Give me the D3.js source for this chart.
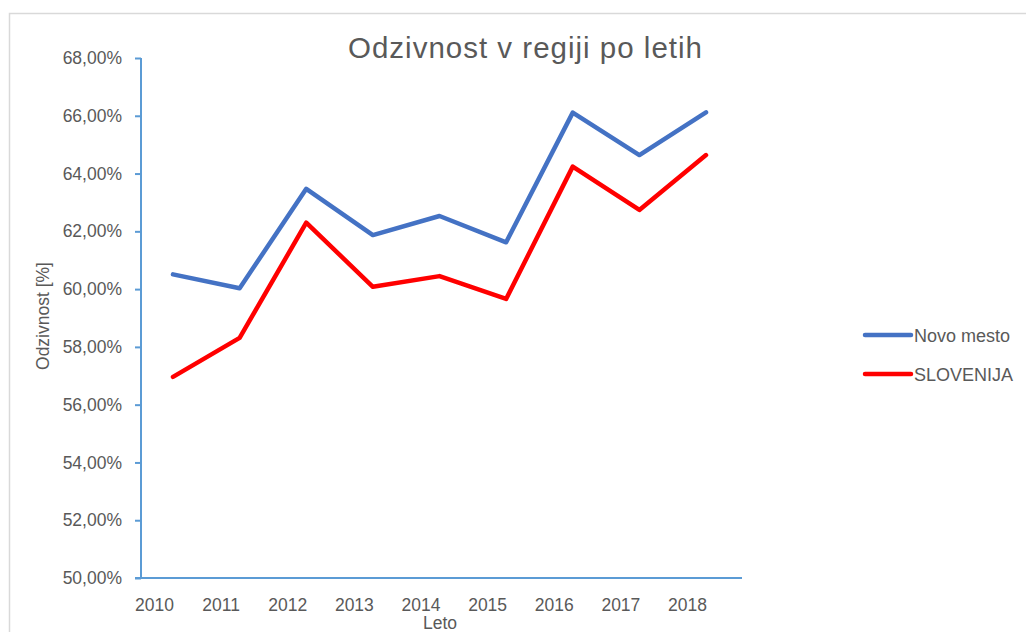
<!DOCTYPE html>
<html><head><meta charset="utf-8">
<script src="https://cdn.jsdelivr.net/npm/d3@7"></script>
<style>body{margin:0;background:#fff;}svg{display:block;}text{font-family:"Liberation Sans",Arial,sans-serif;}</style>
</head><body>
<script>
const years = ["2010","2011","2012","2013","2014","2015","2016","2017","2018"];
const novoMesto = [60.51, 60.03, 63.47, 61.87, 62.53, 61.62, 66.11, 64.64, 66.12];
const slovenija = [56.96, 58.31, 62.30, 60.08, 60.45, 59.66, 64.24, 62.74, 64.64];
const seriesNames = ["Novo mesto", "SLOVENIJA"];
const yTicks = [50,52,54,56,58,60,62,64,66,68];

const W = 1026, H = 632;
const svg = d3.select("body").append("svg").attr("width", W).attr("height", H);

// outer frame
svg.append("rect").attr("x", 9.5).attr("y", 13.5).attr("width", W + 20).attr("height", H + 20)
  .attr("fill", "none").attr("stroke", "#d9d9d9").attr("stroke-width", 1.5);

const x = d3.scalePoint().domain(years).range([173, 706]);
const y = d3.scaleLinear().domain([50, 68]).range([578, 58]);
const fmt = v => d3.format(".2f")(v).replace(".", ",") + "%";
const axisColor = "#5B9BD5", textColor = "#595959";

// y axis
const yAxis = svg.append("g").attr("transform", "translate(141,0)")
  .call(d3.axisLeft(y).tickValues(yTicks).tickFormat(fmt).tickSize(6).tickPadding(13));
yAxis.select(".domain").attr("stroke", axisColor).attr("stroke-width", 2).attr("d", `M0,${y(68)}V${y(50)}`);
yAxis.selectAll(".tick line").attr("stroke", axisColor).attr("stroke-width", 2);
yAxis.selectAll(".tick text").attr("fill", textColor).style("font-size", "17.5px");

// x axis
const xAxis = svg.append("g").attr("transform", `translate(0,${y(50)})`)
  .call(d3.axisBottom(x).tickSize(0).tickPadding(21));
xAxis.select(".domain").attr("stroke", axisColor).attr("stroke-width", 2).attr("d", "M135,0H742");
xAxis.selectAll(".tick text").attr("fill", textColor).style("font-size", "17.5px").attr("dx", -19);

// lines
const line = d3.line().x((d, i) => x(years[i])).y(d => y(d));
const colors = ["#4472C4", "#FF0000"];
[novoMesto, slovenija].forEach((s, k) => {
  svg.append("path").datum(s).attr("d", line).attr("fill", "none")
    .attr("stroke", colors[k]).attr("stroke-width", 4.5)
    .attr("stroke-linejoin", "round").attr("stroke-linecap", "round");
});

// title
svg.append("text").attr("x", 348).attr("y", 58)
  .attr("textLength", 354).attr("lengthAdjust", "spacing")
  .attr("fill", textColor).style("font-size", "29.5px").text("Odzivnost v regiji po letih");

// axis titles
svg.append("text").attr("x", 440).attr("y", 629).attr("text-anchor", "middle")
  .attr("fill", textColor).style("font-size", "17.5px").text("Leto");
svg.append("text").attr("transform", "translate(49,316) rotate(-90)").attr("text-anchor", "middle")
  .attr("fill", textColor).style("font-size", "17.5px").text("Odzivnost [%]");

// legend
seriesNames.forEach((n, k) => {
  const ly = 335 + k * 39;
  svg.append("line").attr("x1", 865).attr("x2", 911).attr("y1", ly).attr("y2", ly)
    .attr("stroke", colors[k]).attr("stroke-width", 4.5).attr("stroke-linecap", "round");
  svg.append("text").attr("x", 914).attr("y", ly + 6.5).attr("fill", textColor)
    .style("font-size", "18px").text(n);
});
</script>
</body></html>
